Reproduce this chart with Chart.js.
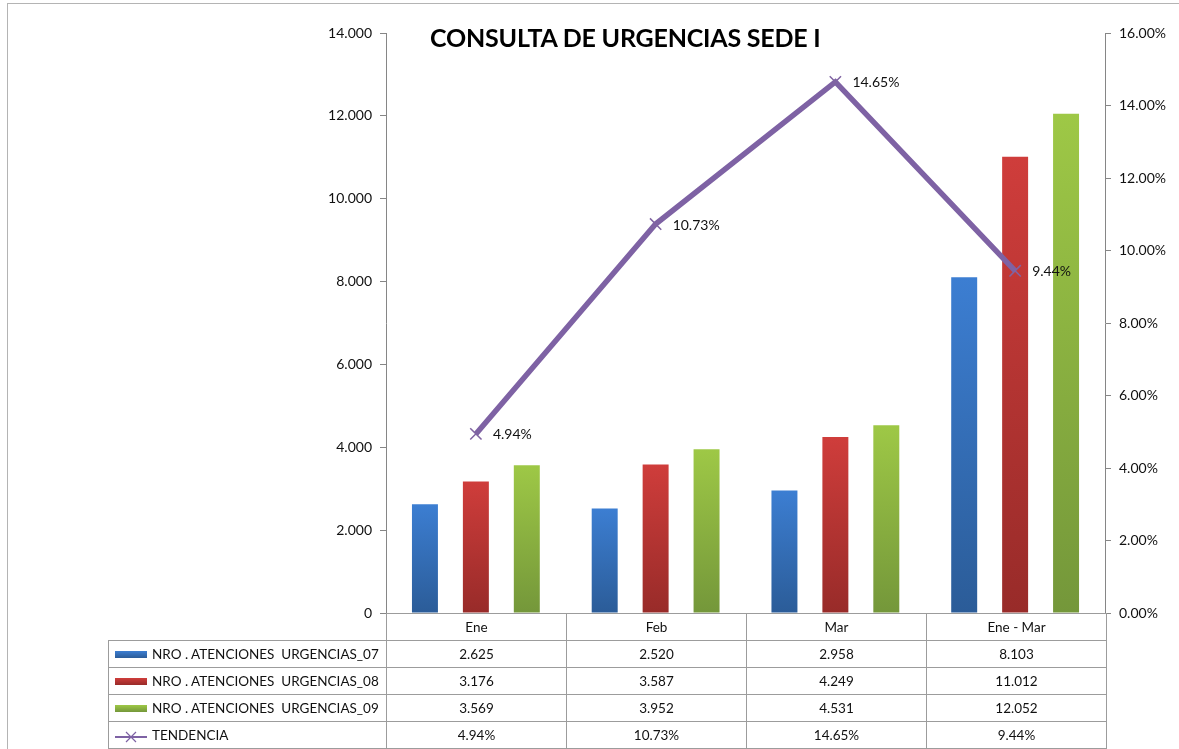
<!DOCTYPE html>
<html>
<head>
<meta charset="utf-8">
<script src="https://cdn.jsdelivr.net/npm/chart.js@4.4.0/dist/chart.umd.min.js"></script>
<style>
body { margin: 0; background: #fff; font-family: Lato, "Open Sans", sans-serif; }
#wrap { position: relative; width: 1179px; height: 749px; overflow: hidden; }
#frame { position: absolute; left: 7px; top: 3px; width: 1200px; height: 800px; border-top: 1px solid #b4b4b4; border-left: 1px solid #b4b4b4; }
#title { position: absolute; left: 430px; top: 22px; font: bold 25px Lato, sans-serif; color: #000; white-space: nowrap; letter-spacing: -0.2px; }
canvas { position: absolute; left: 0; top: 0; }
#tbl { position: absolute; left: 108px; top: 613px; border-collapse: collapse; font-size: 13.5px; color: #111; }
#tbl td { height: 26px; padding: 0; border: 1px solid #9c9c9c; text-align: center; }
#tbl td.name { width: 277px; text-align: left; white-space: pre; }
#tbl td.val { width: 179px; }
#tbl tr.head td.blank { border: none; }
.sw { display: inline-block; width: 32px; height: 7px; margin: 0 5px 0 6px; vertical-align: middle; position: relative; top: -1px; }
</style>
</head>
<body>
<div id="wrap">
  <div id="frame"></div>
  <canvas id="chart" width="1179" height="749"></canvas>
  <div id="title">CONSULTA DE URGENCIAS SEDE I</div>
  <table id="tbl"></table>
</div>
<script>
var categories = ['Ene', 'Feb', 'Mar', 'Ene - Mar'];
var seriesNames = ['NRO . ATENCIONES  URGENCIAS_07', 'NRO . ATENCIONES  URGENCIAS_08', 'NRO . ATENCIONES  URGENCIAS_09'];
var urgencias07 = [2625, 2520, 2958, 8103];
var urgencias08 = [3176, 3587, 4249, 11012];
var urgencias09 = [3569, 3952, 4531, 12052];
var tendenciaName = 'TENDENCIA';
var tendencia = [4.94, 10.73, 14.65, 9.44];

var barTop = ['#3c7ed2', '#cf3d3b', '#9ec846'];
var barBottom = ['#2b5c98', '#982b29', '#74973a'];
var lineColor = '#7e62a4';

function fmtMiles(n) {
	return String(n).replace(/\B(?=(\d{3})+(?!\d))/g, '.');
}

function barFill(idx) {
	return function (ctx) {
		var chart = ctx.chart;
		if (!chart.chartArea || ctx.raw === undefined) return barTop[idx];
		var y = chart.scales.y.getPixelForValue(ctx.raw);
		var y0 = chart.scales.y.getPixelForValue(0);
		var g = chart.ctx.createLinearGradient(0, y, 0, y0);
		g.addColorStop(0, barTop[idx]);
		g.addColorStop(1, barBottom[idx]);
		return g;
	};
}

var lineLabels = {
	id: 'lineLabels',
	afterDatasetsDraw: function (chart) {
		var meta = chart.getDatasetMeta(3);
		var c = chart.ctx;
		c.save();
		c.font = '14px Lato, sans-serif';
		c.fillStyle = '#111';
		c.textAlign = 'left';
		c.textBaseline = 'middle';
		meta.data.forEach(function (pt, i) {
			c.fillText(tendencia[i].toFixed(2) + '%', pt.x + 17, pt.y + 1);
		});
		c.restore();
	}
};

var barData = [urgencias07, urgencias08, urgencias09];
var datasets = barData.map(function (d, i) {
	return {
		type: 'bar',
		label: seriesNames[i],
		data: d,
		backgroundColor: barFill(i),
		yAxisID: 'y',
		order: 2,
		categoryPercentage: 0.85,
		barPercentage: 0.51
	};
});
datasets.push({
	type: 'line',
	label: tendenciaName,
	data: tendencia,
	yAxisID: 'y1',
	order: 0,
	borderColor: lineColor,
	borderWidth: 5.5,
	tension: 0,
	pointStyle: 'crossRot',
	pointRadius: 8,
	pointBorderWidth: 1.5,
	pointBorderColor: '#8064a2',
	pointBackgroundColor: '#8064a2'
});

var axisGray = '#868686';
new Chart(document.getElementById('chart').getContext('2d'), {
	type: 'bar',
	data: { labels: categories, datasets: datasets },
	options: {
		responsive: false,
		animation: false,
		layout: { padding: { left: 0, right: 0, top: 33, bottom: 136 } },
		plugins: {
			legend: { display: false },
			title: { display: false },
			tooltip: { enabled: false }
		},
		scales: {
			x: {
				ticks: { display: false },
				grid: { display: false },
				border: { display: true, color: axisGray, width: 1 },
				afterFit: function (s) { s.height = 0; }
			},
			y: {
				position: 'left',
				min: 0, max: 14000,
				ticks: {
					stepSize: 2000,
					padding: 8,
					color: '#111',
					font: { family: 'Lato', size: 14 },
					callback: function (v) { return fmtMiles(v); }
				},
				grid: { drawOnChartArea: false, drawTicks: true, tickLength: 6, color: axisGray },
				border: { color: axisGray, width: 1 },
				afterFit: function (s) { s.width = 386; }
			},
			y1: {
				position: 'right',
				min: 0, max: 16,
				ticks: {
					stepSize: 2,
					padding: 8,
					color: '#111',
					font: { family: 'Lato', size: 14 },
					callback: function (v) { return v.toFixed(2) + '%'; }
				},
				grid: { drawOnChartArea: false, drawTicks: true, tickLength: 6, color: axisGray },
				border: { color: axisGray, width: 1 },
				afterFit: function (s) { s.width = 74; }
			}
		}
	},
	plugins: [lineLabels]
});

/* data table under the chart */
var tbl = document.getElementById('tbl');
var html = '<tr class="head"><td class="name blank"></td>';
categories.forEach(function (c) { html += '<td class="val">' + c + '</td>'; });
html += '</tr>';
barData.forEach(function (d, i) {
	html += '<tr><td class="name"><span class="sw" style="background:linear-gradient(' + barTop[i] + ',' + barBottom[i] + ')"></span>' + seriesNames[i] + '</td>';
	d.forEach(function (v) { html += '<td class="val">' + fmtMiles(v) + '</td>'; });
	html += '</tr>';
});
html += '<tr><td class="name"><svg width="32" height="12" style="margin:0 5px 0 6px;vertical-align:middle"><line x1="0" y1="6" x2="32" y2="6" stroke="' + lineColor + '" stroke-width="2"/><path d="M11 1 L21 11 M21 1 L11 11" stroke="' + lineColor + '" stroke-width="1.2"/></svg>' + tendenciaName + '</td>';
tendencia.forEach(function (v) { html += '<td class="val">' + v.toFixed(2) + '%</td>'; });
html += '</tr>';
tbl.innerHTML = html;
</script>
</body>
</html>
